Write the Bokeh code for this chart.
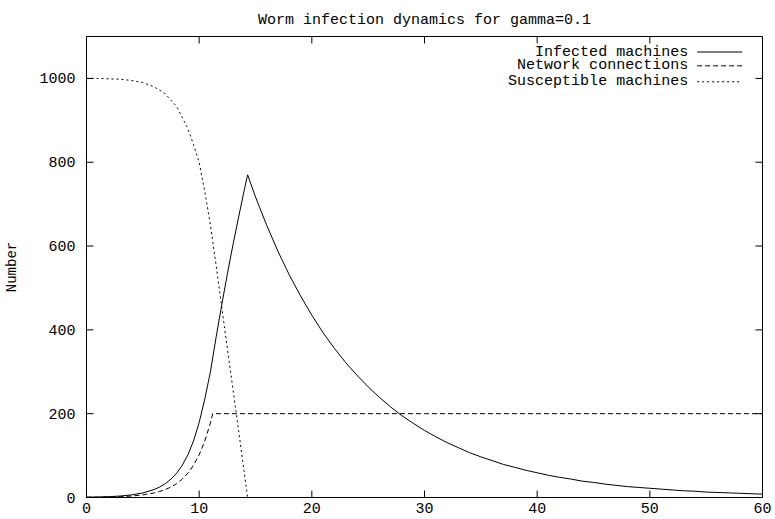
from bokeh.plotting import figure
from bokeh.models import Range1d, FixedTicker, Label
from bokeh.embed import file_html
from bokeh.resources import INLINE

# ---- data ----
t_inf = [0, 1, 2, 3, 4, 5, 6, 6.5, 7, 7.5, 8, 8.5, 9, 9.5, 10, 10.5, 11, 11.5, 12,
         12.5, 13, 13.5, 14, 14.3, 15, 16, 17, 18, 19, 20, 21, 22, 23, 24, 25, 26,
         27, 28, 29, 30, 31, 32, 33, 34, 35, 36, 37, 38, 39, 40, 41, 42, 43, 44,
         45, 46, 47, 48, 49, 50, 51, 52, 53, 54, 55, 56, 57, 58, 59, 60]
infected = [1, 1.2, 2.0, 3.5, 6.2, 10.9, 19, 25, 33, 44, 58, 77, 102, 135, 179, 235,
            300, 382, 459, 533, 603, 669, 733, 770, 717, 649, 587, 531, 481, 435,
            393, 356, 322, 292, 264, 239, 216, 195, 177, 160, 145, 131, 119, 107,
            97, 88, 79, 72, 65, 59, 53, 48, 44, 39, 36, 32, 29, 26, 24, 22, 20, 18,
            16, 15, 13, 12, 11, 10, 9, 8]

t_net = [0, 1, 2, 3, 4, 5, 6, 6.5, 7, 7.5, 8, 8.5, 9, 9.5, 10, 10.5, 11, 11.2, 20,
         30, 40, 50, 60]
network = [0.4, 0.66, 1.15, 2.0, 3.5, 6.2, 10.9, 14.4, 19, 25, 33, 44, 58, 77, 102,
           135, 178, 200, 200, 200, 200, 200, 200]

t_sus = [0, 1, 2, 3, 4, 5, 6, 7, 8, 9, 9.5, 10, 10.5, 11, 11.5, 12, 12.5, 13, 13.5,
         14, 14.3]
susceptible = [1000, 1000, 999, 998, 995, 990, 980, 963, 933, 880, 842, 800, 730,
               650, 555, 455, 356, 258, 160, 60, 0]

x_ticks = [0, 10, 20, 30, 40, 50, 60]
y_ticks = [0, 200, 400, 600, 800, 1000]
labels = ["Infected machines", "Network connections", "Susceptible machines"]
title_text = "Worm infection dynamics for gamma=0.1"
y_label = "Number"

FONT = "Liberation Mono"
FS = "15px"
X0, X1, Y0, Y1 = 0, 60, 0, 1100

p = figure(width=775, height=519, output_backend="svg", toolbar_location=None,
           x_range=Range1d(X0, X1), y_range=Range1d(Y0, Y1),
           title=title_text,
           min_border_left=86, min_border_right=13, min_border_top=36,
           min_border_bottom=22)

p.title.align = "center"
p.title.text_font = FONT
p.title.text_font_size = FS
p.title.text_font_style = "normal"
p.title.text_color = "black"
p.title.standoff = 15

p.grid.visible = False
p.outline_line_color = "black"
p.outline_line_width = 1
p.background_fill_color = "white"
p.border_fill_color = "white"


def style_axis(ax, standoff=5):
    ax.major_tick_in = 0
    ax.major_tick_out = 0
    ax.minor_tick_in = 0
    ax.minor_tick_out = 0
    ax.axis_line_color = "black"
    ax.major_label_text_font = FONT
    ax.major_label_text_font_size = FS
    ax.major_label_text_color = "black"
    ax.major_label_standoff = standoff


xa = p.xaxis[0]
xa.ticker = FixedTicker(ticks=x_ticks)
style_axis(xa, 5)
ya = p.yaxis[0]
ya.ticker = FixedTicker(ticks=y_ticks)
style_axis(ya, 11)
ya.axis_label = y_label
ya.axis_label_text_font = FONT
ya.axis_label_text_font_size = "14px"
ya.axis_label_text_font_style = "normal"
ya.axis_label_text_color = "black"
ya.axis_label_standoff = 16

# inward tick marks on all four sides (gnuplot "mirror" style)
TX = 0.62   # tick length along y-axis sides, in x units (~7 px)
TY = 16.7   # tick length along x-axis sides, in y units (~7 px)
inner_x = [t for t in x_ticks if X0 < t < X1]
inner_y = [v for v in y_ticks if Y0 < v < Y1]
tick_style = dict(line_color="black", line_width=1)
p.segment(x0=inner_x, y0=[Y0] * len(inner_x), x1=inner_x, y1=[Y0 + TY] * len(inner_x),
          **tick_style)
p.segment(x0=inner_x, y0=[Y1] * len(inner_x), x1=inner_x, y1=[Y1 - TY] * len(inner_x),
          **tick_style)
p.segment(x0=[X0] * len(inner_y), y0=inner_y, x1=[X0 + TX] * len(inner_y), y1=inner_y,
          **tick_style)
p.segment(x0=[X1] * len(inner_y), y0=inner_y, x1=[X1 - TX] * len(inner_y), y1=inner_y,
          **tick_style)

p.line(t_inf, infected, line_color="black", line_width=1)
p.line(t_net, network, line_color="black", line_width=1, line_dash="5 3")
p.line(t_sus, susceptible, line_color="black", line_width=1, line_dash="2 3")

# gnuplot-style key: text right-aligned, sample to its right
key_text_x = 53.4
key_x0, key_x1 = 54.2, 58.2
key_y = [1063, 1030, 992]
dashes = ["solid", "5 3", "2 3"]
for lab, yy, d in zip(labels, key_y, dashes):
    p.add_layout(Label(x=key_text_x, y=yy, text=lab, text_align="right",
                       text_baseline="middle", text_font=FONT,
                       text_font_size=FS, text_color="black"))
    p.line([key_x0, key_x1], [yy, yy], line_color="black", line_width=1, line_dash=d)

open("out.html", "w").write(file_html(p, INLINE))
